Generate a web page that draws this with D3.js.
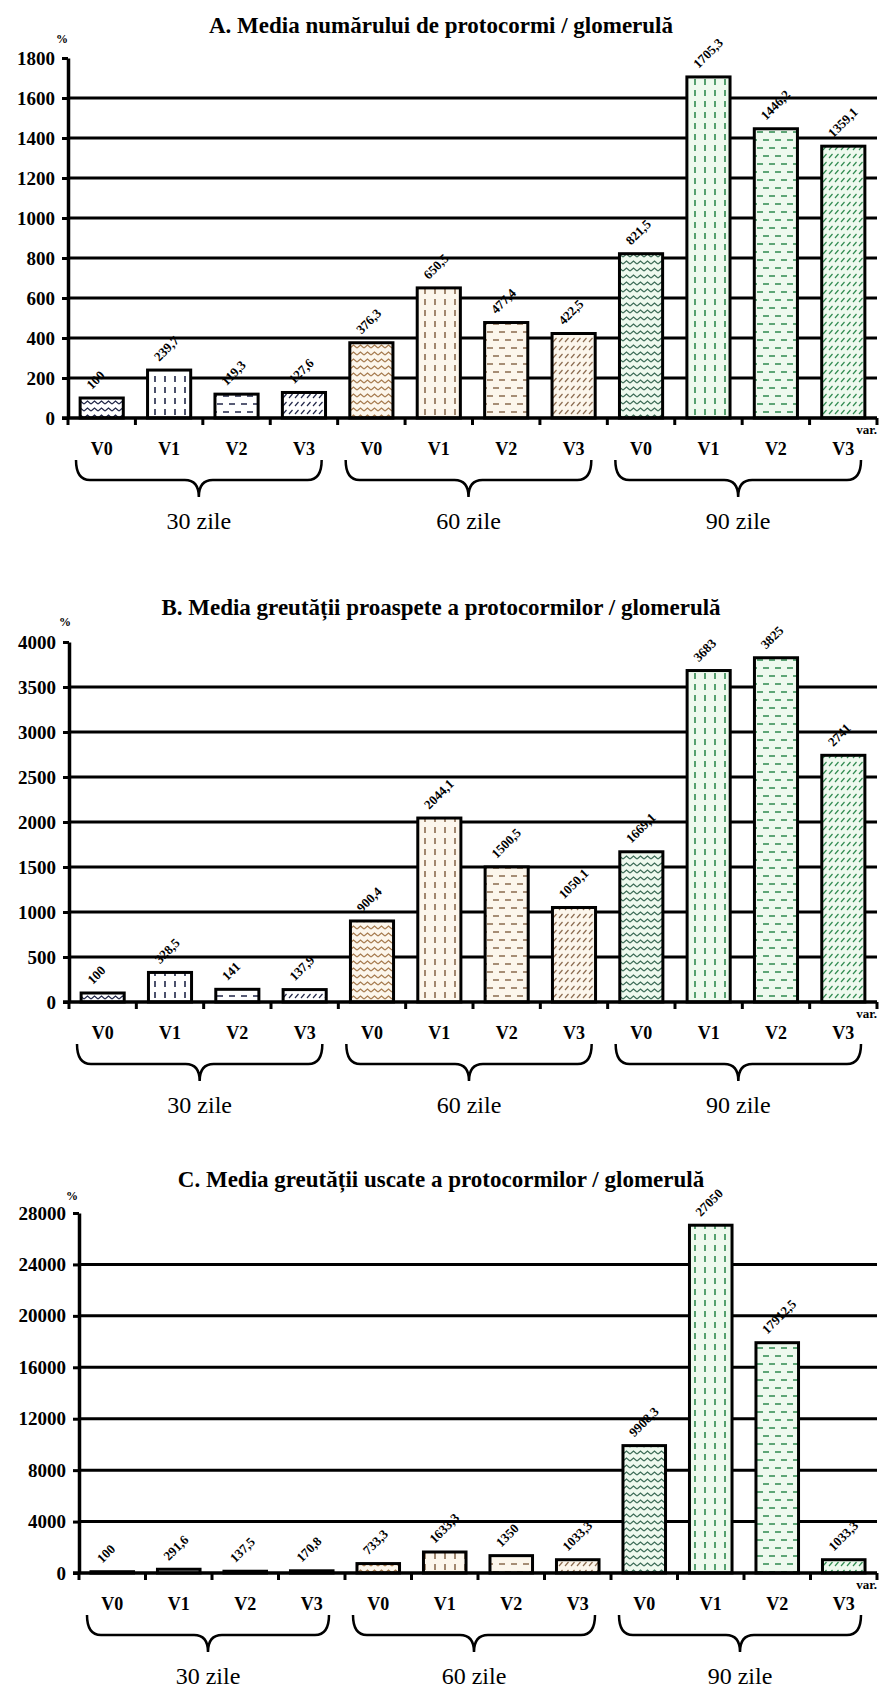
<!DOCTYPE html>
<html>
<head>
<meta charset="utf-8">
<script src="https://cdn.jsdelivr.net/npm/d3@7"></script>
<style>
  html, body { margin: 0; padding: 0; background: #ffffff; }
  svg { display: block; }
  svg text { font-family: "Liberation Serif", "Times New Roman", "DejaVu Serif", serif; }
</style>
</head>
<body>
<script>
// ---------- DATA ----------
const groups = ["30 zile", "60 zile", "90 zile"];
const variants = ["V0", "V1", "V2", "V3"];

const titleA = "A. Media numărului de protocormi / glomerulă";
const titleB = "B. Media greutății proaspete a protocormilor / glomerulă";
const titleC = "C. Media greutății uscate a protocormilor / glomerulă";

const valuesA = [100, 239.7, 119.3, 127.6, 376.3, 650.5, 477.4, 422.5, 821.5, 1705.3, 1446.2, 1359.1];
const valuesB = [100, 328.5, 141, 137.9, 900.4, 2044.1, 1500.5, 1050.1, 1669.1, 3683, 3825, 2741];
const valuesC = [100, 291.6, 137.5, 170.8, 733.3, 1633.3, 1350, 1033.3, 9908.3, 27050, 17912.5, 1033.3];

const ticksA = [0, 200, 400, 600, 800, 1000, 1200, 1400, 1600, 1800];
const ticksB = [0, 500, 1000, 1500, 2000, 2500, 3000, 3500, 4000];
const ticksC = [0, 4000, 8000, 12000, 16000, 20000, 24000, 28000];

const unitLabel = "%";
const axisEndLabel = "var.";

// ---------- LAYOUT / STYLE ----------
const W = 882, H = 1688;
const RIGHT = 877;

const charts = [
  { title: titleA, values: valuesA, ticks: ticksA, top: 58,   bottom: 418,  left: 68, titleY: 25,   pctX: 62, pctY: 39 },
  { title: titleB, values: valuesB, ticks: ticksB, top: 642,  bottom: 1002, left: 69, titleY: 607,  pctX: 65, pctY: 622 },
  { title: titleC, values: valuesC, ticks: ticksC, top: 1213, bottom: 1573, left: 79, titleY: 1179, pctX: 72, pctY: 1196 }
];

const groupStyles = [
  { bg: "#ffffff", fg: "#1f2547", zig: "#1f2547" },
  { bg: "#fcf6ec", fg: "#8a6a4e", zig: "#a67b4f" },
  { bg: "#eef9ee", fg: "#2f8a4f", zig: "#3d6c57" }
];

const fmt = v => String(v).replace(".", ",");

const svg = d3.select("body").append("svg")
  .attr("width", W).attr("height", H)
  .attr("viewBox", `0 0 ${W} ${H}`);

// ---------- PATTERNS ----------
const defs = svg.append("defs");
groupStyles.forEach((st, g) => {
  // V0: zigzag
  let p = defs.append("pattern").attr("id", `p${g}0`).attr("patternUnits", "userSpaceOnUse")
    .attr("width", 7).attr("height", 7);
  p.append("rect").attr("width", 7).attr("height", 7).attr("fill", st.bg);
  p.append("path").attr("d", "M0,5 L3.5,2 L7,5").attr("fill", "none")
    .attr("stroke", st.zig).attr("stroke-width", 1.3);
  // V1: vertical dashes
  p = defs.append("pattern").attr("id", `p${g}1`).attr("patternUnits", "userSpaceOnUse")
    .attr("width", 10).attr("height", 11);
  p.append("rect").attr("width", 10).attr("height", 11).attr("fill", st.bg);
  p.append("path").attr("d", "M5,2 V8").attr("stroke", st.fg).attr("stroke-width", 1.6);
  // V2: horizontal dashes
  p = defs.append("pattern").attr("id", `p${g}2`).attr("patternUnits", "userSpaceOnUse")
    .attr("width", 12).attr("height", 16);
  p.append("rect").attr("width", 12).attr("height", 16).attr("fill", st.bg);
  p.append("path").attr("d", "M1,4 H7 M7,12 H12 M0,12 H1").attr("stroke", st.fg).attr("stroke-width", 1.6);
  // V3: short diagonal marks
  p = defs.append("pattern").attr("id", `p${g}3`).attr("patternUnits", "userSpaceOnUse")
    .attr("width", 6).attr("height", 8);
  p.append("rect").attr("width", 6).attr("height", 8).attr("fill", st.bg);
  p.append("path").attr("d", "M1,6 L4.5,2").attr("stroke", st.fg).attr("stroke-width", 1.2);
});

// ---------- DRAW ----------
charts.forEach(cfg => {
  const gEl = svg.append("g");
  const n = cfg.values.length;
  const maxV = cfg.ticks[cfg.ticks.length - 1];

  const x = d3.scaleBand().domain(d3.range(n)).range([cfg.left, RIGHT])
    .paddingInner(0.36).paddingOuter(0.18);
  const y = d3.scaleLinear().domain([0, maxV]).range([cfg.bottom, cfg.top]);
  const step = x.step();

  // title
  gEl.append("text").attr("x", W / 2).attr("y", cfg.titleY)
    .attr("text-anchor", "middle").attr("dominant-baseline", "central")
    .attr("font-weight", "bold").attr("font-size", 23)
    .text(cfg.title);

  // unit
  gEl.append("text").attr("x", cfg.pctX).attr("y", cfg.pctY)
    .attr("text-anchor", "middle").attr("dominant-baseline", "central")
    .attr("font-weight", "bold").attr("font-size", 12)
    .text(unitLabel);

  // gridlines
  gEl.append("g").selectAll("line")
    .data(cfg.ticks.filter(t => t > 0 && t < maxV))
    .join("line")
    .attr("x1", cfg.left).attr("x2", RIGHT)
    .attr("y1", d => y(d)).attr("y2", d => y(d))
    .attr("stroke", "#000").attr("stroke-width", 3);

  // bars
  gEl.append("g").selectAll("rect")
    .data(cfg.values)
    .join("rect")
    .attr("x", (d, i) => x(i))
    .attr("width", x.bandwidth())
    .attr("y", d => y(d))
    .attr("height", d => y(0) - y(d))
    .attr("fill", (d, i) => `url(#p${Math.floor(i / 4)}${i % 4})`)
    .attr("stroke", "#000").attr("stroke-width", 3);

  // y axis
  const yAxis = gEl.append("g").attr("transform", `translate(${cfg.left},0)`)
    .call(d3.axisLeft(y).tickValues(cfg.ticks).tickSize(6).tickSizeOuter(0).tickPadding(7)
      .tickFormat(d => String(d)));
  yAxis.attr("font-family", null);
  yAxis.select(".domain").attr("stroke", "#000").attr("stroke-width", 3.5);
  yAxis.selectAll(".tick line").attr("stroke", "#000").attr("stroke-width", 3);
  yAxis.selectAll(".tick text").attr("font-weight", "bold")
    .attr("font-size", 19).attr("fill", "#000");

  // x axis line
  gEl.append("line").attr("x1", cfg.left - 6).attr("x2", RIGHT)
    .attr("y1", y(0)).attr("y2", y(0))
    .attr("stroke", "#000").attr("stroke-width", 3.5);
  // x tick marks at band boundaries
  gEl.append("g").selectAll("line")
    .data(d3.range(n + 1))
    .join("line")
    .attr("x1", i => cfg.left + i * step).attr("x2", i => cfg.left + i * step)
    .attr("y1", y(0)).attr("y2", y(0) + 7)
    .attr("stroke", "#000").attr("stroke-width", 3);

  // value labels
  gEl.append("g").selectAll("text")
    .data(cfg.values)
    .join("text")
    .attr("transform", (d, i) => `translate(${x(i) + x.bandwidth() / 2 - 10},${y(d) - 8}) rotate(-45)`)
    .attr("font-weight", "bold").attr("font-size", 13)
    .attr("fill", "#000")
    .text(d => fmt(d));

  // variant labels
  gEl.append("g").selectAll("text")
    .data(cfg.values)
    .join("text")
    .attr("x", (d, i) => x(i) + x.bandwidth() / 2)
    .attr("y", y(0) + 31)
    .attr("text-anchor", "middle").attr("dominant-baseline", "central")
    .attr("font-weight", "bold").attr("font-size", 18)
    .text((d, i) => variants[i % 4]);

  // "var."
  gEl.append("text").attr("x", RIGHT).attr("y", y(0) + 11)
    .attr("text-anchor", "end").attr("dominant-baseline", "central")
    .attr("font-weight", "bold").attr("font-size", 13)
    .text(axisEndLabel);

  // braces + group labels
  groups.forEach((gName, gi) => {
    const gs = cfg.left + gi * 4 * step;
    const ge = gs + 4 * step;
    const x0 = gs + 8, x1 = ge - 16, xm = (x0 + x1) / 2;
    const top = y(0) + 42, mid = y(0) + 62, tip = y(0) + 79;
    const r = 14;
    const path = `M${x0},${top} Q${x0},${mid} ${x0 + r},${mid} L${xm - r},${mid} Q${xm},${mid} ${xm},${tip} ` +
                 `Q${xm},${mid} ${xm + r},${mid} L${x1 - r},${mid} Q${x1},${mid} ${x1},${top}`;
    gEl.append("path").attr("d", path).attr("fill", "none")
      .attr("stroke", "#000").attr("stroke-width", 2.5);
    gEl.append("text").attr("x", xm).attr("y", y(0) + 103)
      .attr("text-anchor", "middle").attr("dominant-baseline", "central")
      .attr("font-size", 24)
      .text(gName);
  });
});
</script>
</body>
</html>
